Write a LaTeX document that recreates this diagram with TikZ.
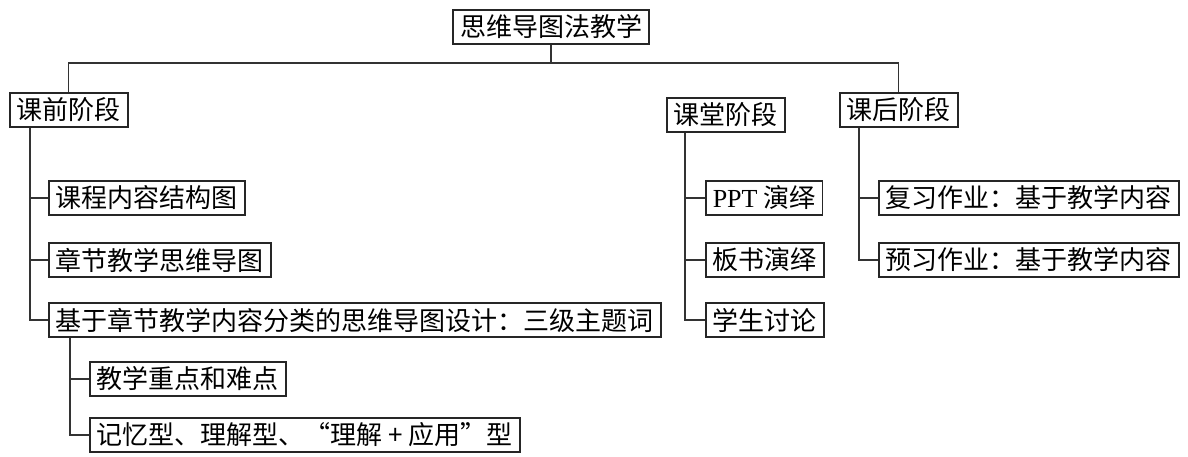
\documentclass[tikz,border=0pt]{standalone}
\usepackage{fontspec}
\setmainfont{Liberation Serif}
\newfontfamily\cjk{Noto Sans CJK SC}

\begin{document}
\begin{tikzpicture}[x=0.5pt,y=-0.5pt,
  box/.style={rectangle,draw=black!85,line width=0.75pt,
              font=\cjk\fontsize{13}{13}\selectfont,
              inner xsep=3.5pt,inner ysep=0pt,minimum height=17pt},
  link/.style={draw=black!80,line width=0.6pt}]
\useasboundingbox (0,0) rectangle (1188,456);

\node[box] (root) at (551,27) {思维导图法教学};

% stages
\node[box,anchor=west] (pre)  at (9,110)   {课前阶段};
\node[box,anchor=west] (cls)  at (666,115) {课堂阶段};
\node[box,anchor=west] (post) at (839,110) {课后阶段};

\coordinate (bar) at (551,63);
\draw[link] (root) -- (bar);
\draw[link] (pre.north) |- (bar) -| (post.north);

% before class
\node[box,anchor=west] (pre1) at (48,198) {课程内容结构图};
\node[box,anchor=west] (pre2) at (48,260) {章节教学思维导图};
\node[box,anchor=west] (pre3) at (48,320) {基于章节教学内容分类的思维导图设计：三级主题词};
\node[box,anchor=west] (sub1) at (89,379) {教学重点和难点};
\node[box,anchor=west] (sub2) at (89,435) {记忆型、理解型、“理解 + 应用”型};

% in class
\node[box,anchor=west] (cls1) at (705,198) {{\normalfont PPT} 演绎};
\node[box,anchor=west] (cls2) at (705,260) {板书演绎};
\node[box,anchor=west] (cls3) at (705,320) {学生讨论};

% after class
\node[box,anchor=west] (post1) at (878,198) {复习作业：基于教学内容};
\node[box,anchor=west] (post2) at (878,260) {预习作业：基于教学内容};

\coordinate (preS)  at ([xshift=10.5pt]pre.south west);
\coordinate (pre3S) at ([xshift=11pt]pre3.south west);
\coordinate (clsS)  at ([xshift=9.5pt]cls.south west);
\coordinate (postS) at ([xshift=10pt]post.south west);

\foreach \n in {pre1,pre2,pre3}
  \draw[link] (preS) |- (\n.west);
\foreach \n in {sub1,sub2}
  \draw[link] (pre3S) |- (\n.west);
\foreach \n in {cls1,cls2,cls3}
  \draw[link] (clsS) |- (\n.west);
\foreach \n in {post1,post2}
  \draw[link] (postS) |- (\n.west);
\end{tikzpicture}
\end{document}
